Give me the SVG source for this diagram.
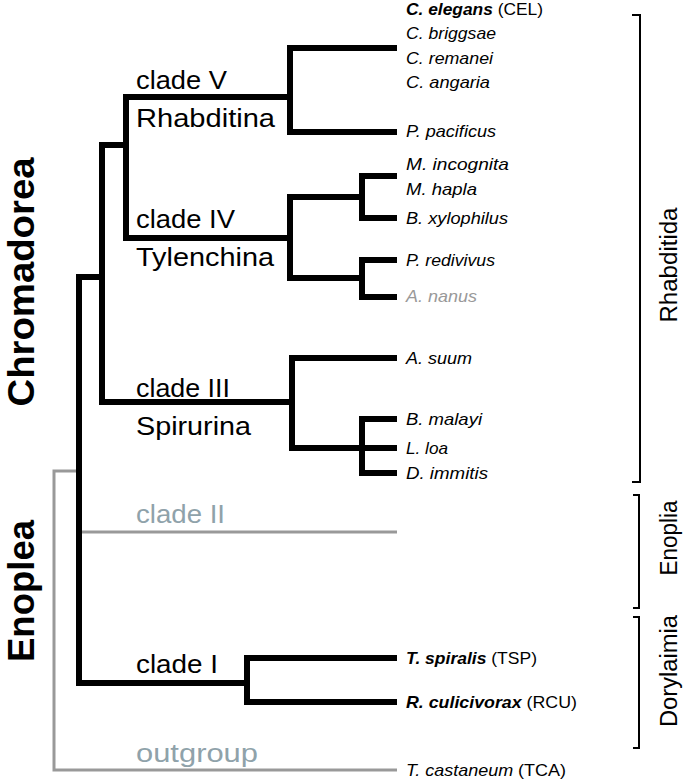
<svg xmlns="http://www.w3.org/2000/svg" width="685" height="783" viewBox="0 0 685 783">
<style>
.br{fill:none;stroke:#000;stroke-width:6;stroke-linejoin:miter}
.gr{fill:none;stroke:#999;stroke-width:3}
.bk{fill:none;stroke:#000;stroke-width:2}
text{font-family:"Liberation Sans",Arial,sans-serif}
.leaf{font-size:17px;font-style:italic;fill:#000}
.grey{fill:#999}
.clade{font-size:26px;fill:#000}
.gclade{font-size:26px;fill:#8fa2aa}
.big{font-size:37px;font-weight:bold;fill:#000}
.grp{font-size:23px;fill:#000}
.b{font-weight:bold}
.n{font-style:normal}
</style>
<rect width="685" height="783" fill="#fff"/>
<g id="connectors">
<path class="gr" d="M79,471 H54 V770 H397"/>
<path class="gr" d="M79,532 H397"/>
<path class="br" d="M397,48 H290 V132 H397"/>
<path class="br" d="M290,97 H126 V238 H290"/>
<path class="br" d="M362,197 H290 V278 H362"/>
<path class="br" d="M397,176 H362 V218 H397"/>
<path class="br" d="M397,260 H362 V297 H397"/>
<path class="br" d="M126,145 H102 V402 H292"/>
<path class="br" d="M397,358 H292 V448 H397"/>
<path class="br" d="M397,419 H362 V473 H397"/>
<path class="br" d="M102,277 H79 V683 H247"/>
<path class="br" d="M397,658 H247 V702 H397"/>
</g>
<g id="leaves">
<g id="cel"><text class="leaf" x="406" y="15" textLength="137" lengthAdjust="spacingAndGlyphs"><tspan class="b">C. elegans</tspan><tspan class="n"> (CEL)</tspan></text></g>
<g id="cbr"><text class="leaf" x="406" y="39" textLength="90" lengthAdjust="spacingAndGlyphs">C. briggsae</text></g>
<g id="cre"><text class="leaf" x="406" y="64" textLength="87" lengthAdjust="spacingAndGlyphs">C. remanei</text></g>
<g id="can"><text class="leaf" x="406" y="88" textLength="84" lengthAdjust="spacingAndGlyphs">C. angaria</text></g>
<g id="ppa"><text class="leaf" x="406" y="137" textLength="90" lengthAdjust="spacingAndGlyphs">P. pacificus</text></g>
<g id="min"><text class="leaf" x="406" y="170" textLength="103" lengthAdjust="spacingAndGlyphs">M. incognita</text></g>
<g id="mha"><text class="leaf" x="406" y="195" textLength="71" lengthAdjust="spacingAndGlyphs">M. hapla</text></g>
<g id="bxy"><text class="leaf" x="406" y="224" textLength="102" lengthAdjust="spacingAndGlyphs">B. xylophilus</text></g>
<g id="pre"><text class="leaf" x="406" y="266" textLength="89" lengthAdjust="spacingAndGlyphs">P. redivivus</text></g>
<g id="ana"><text class="leaf grey" x="406" y="302" textLength="71" lengthAdjust="spacingAndGlyphs">A. nanus</text></g>
<g id="asu"><text class="leaf" x="406" y="364" textLength="66" lengthAdjust="spacingAndGlyphs">A. suum</text></g>
<g id="bma"><text class="leaf" x="406" y="425" textLength="76" lengthAdjust="spacingAndGlyphs">B. malayi</text></g>
<g id="llo"><text class="leaf" x="406" y="454" textLength="42" lengthAdjust="spacingAndGlyphs">L. loa</text></g>
<g id="dim"><text class="leaf" x="406" y="479" textLength="82" lengthAdjust="spacingAndGlyphs">D. immitis</text></g>
<g id="tsp"><text class="leaf" x="406" y="664" textLength="131" lengthAdjust="spacingAndGlyphs"><tspan class="b">T. spiralis</tspan><tspan class="n"> (TSP)</tspan></text></g>
<g id="rcu"><text class="leaf" x="406" y="708" textLength="171" lengthAdjust="spacingAndGlyphs"><tspan class="b">R. culicivorax</tspan><tspan class="n"> (RCU)</tspan></text></g>
<g id="tca"><text class="leaf" x="406" y="776" textLength="160" lengthAdjust="spacingAndGlyphs">T. castaneum<tspan class="n"> (TCA)</tspan></text></g>
</g>
<g id="clades">
<g id="cladeV"><text class="clade" x="136" y="89" textLength="91" lengthAdjust="spacingAndGlyphs">clade V</text><text class="clade" x="136" y="127" textLength="139" lengthAdjust="spacingAndGlyphs">Rhabditina</text></g>
<g id="cladeIV"><text class="clade" x="136" y="228" textLength="99" lengthAdjust="spacingAndGlyphs">clade IV</text><text class="clade" x="136" y="266" textLength="138" lengthAdjust="spacingAndGlyphs">Tylenchina</text></g>
<g id="cladeIII"><text class="clade" x="136" y="397" textLength="94" lengthAdjust="spacingAndGlyphs">clade III</text><text class="clade" x="136" y="435" textLength="115" lengthAdjust="spacingAndGlyphs">Spirurina</text></g>
<g id="cladeII"><text class="gclade" x="136" y="523" textLength="89" lengthAdjust="spacingAndGlyphs">clade II</text></g>
<g id="cladeI"><text class="clade" x="136" y="673" textLength="82" lengthAdjust="spacingAndGlyphs">clade I</text></g>
<g id="outgroup"><text class="gclade" x="136" y="762" textLength="122" lengthAdjust="spacingAndGlyphs">outgroup</text></g>
</g>
<g id="classes">
<g id="chromadorea"><text class="big" transform="translate(34,282) rotate(-90)" text-anchor="middle" textLength="249" lengthAdjust="spacingAndGlyphs">Chromadorea</text></g>
<g id="enoplea"><text class="big" transform="translate(34,591) rotate(-90)" text-anchor="middle" textLength="142" lengthAdjust="spacingAndGlyphs">Enoplea</text></g>
</g>
<g id="orders">
<g id="rhabditida"><path class="bk" d="M632,15 H640 V482 H632"/><text class="grp" transform="translate(677,265) rotate(-90)" text-anchor="middle" textLength="115" lengthAdjust="spacingAndGlyphs">Rhabditida</text></g>
<g id="enoplia"><path class="bk" d="M633,495 H639 V608 H633"/><text class="grp" transform="translate(677,538) rotate(-90)" text-anchor="middle" textLength="75" lengthAdjust="spacingAndGlyphs">Enoplia</text></g>
<g id="dorylaimia"><path class="bk" d="M633,617 H639 V748 H633"/><text class="grp" transform="translate(677,671) rotate(-90)" text-anchor="middle" textLength="112" lengthAdjust="spacingAndGlyphs">Dorylaimia</text></g>
</g>
</svg>
